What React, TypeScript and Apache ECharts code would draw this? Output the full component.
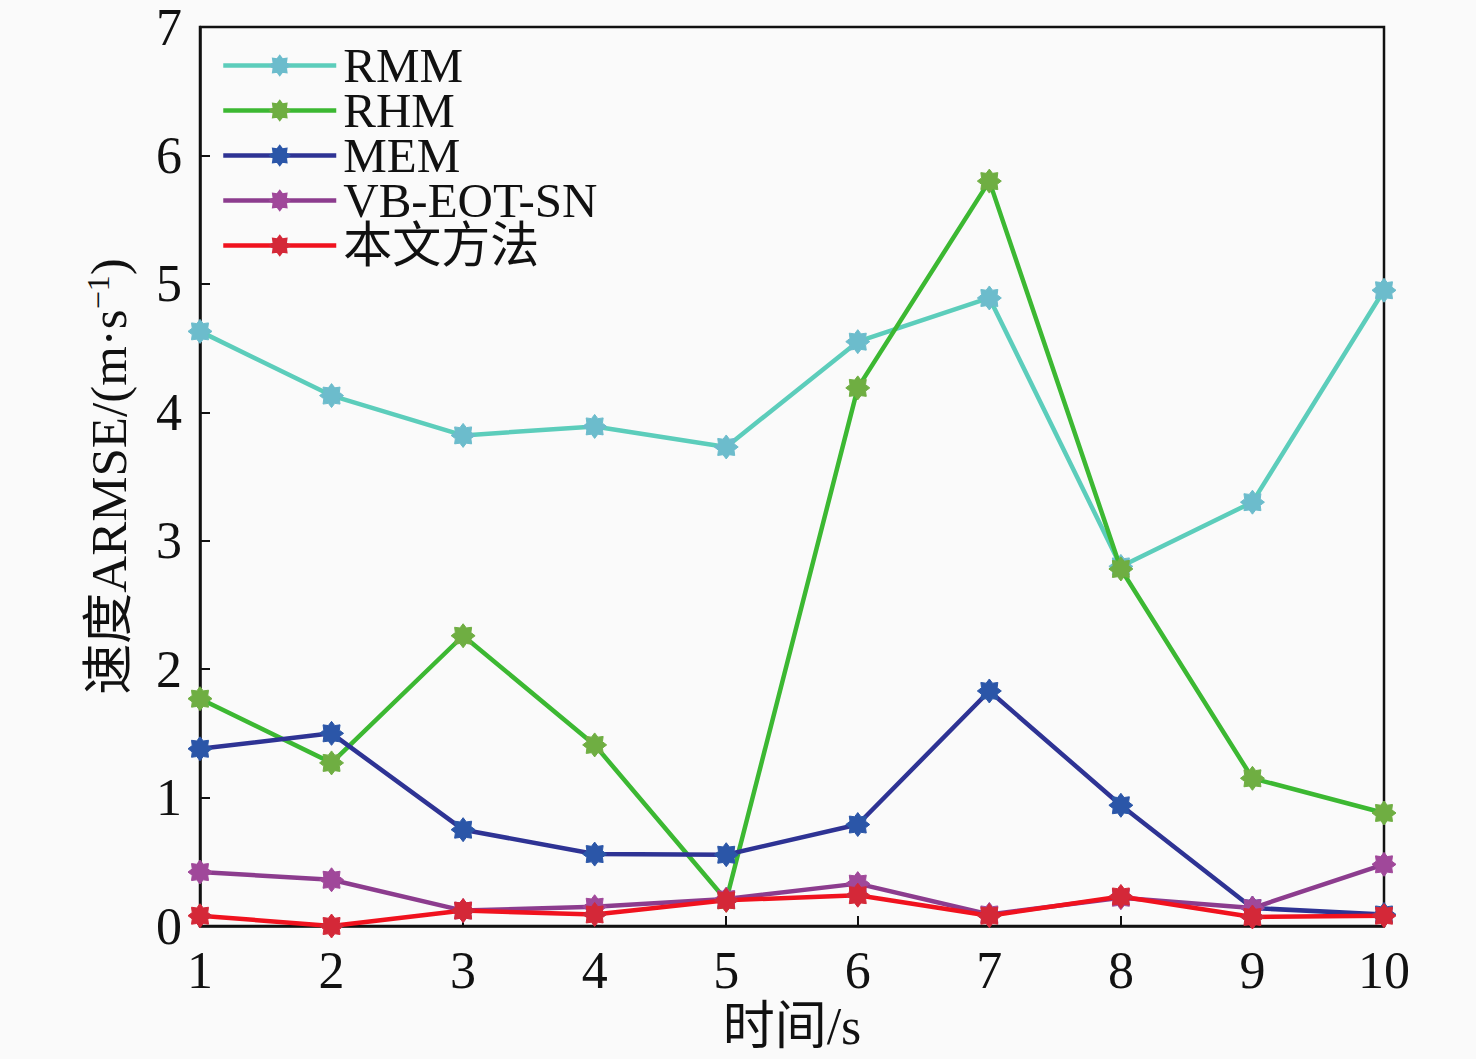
import React, { useEffect, useRef } from "react";
import * as echarts from "echarts";

const times = [1, 2, 3, 4, 5, 6, 7, 8, 9, 10];
const seriesNames = ["RMM", "RHM", "MEM", "VB-EOT-SN", "本文方法"];
const rmm = [4.63, 4.13, 3.82, 3.89, 3.73, 4.55, 4.89, 2.8, 3.3, 4.95];
const rhm = [1.77, 1.27, 2.26, 1.41, 0.2, 4.19, 5.8, 2.78, 1.15, 0.88];
const mem = [1.38, 1.5, 0.75, 0.56, 0.555, 0.79, 1.83, 0.94, 0.14, 0.09];
const vb = [0.42, 0.36, 0.12, 0.15, 0.21, 0.33, 0.09, 0.22, 0.14, 0.48];
const ours = [0.08, 0.0, 0.12, 0.09, 0.2, 0.24, 0.08, 0.23, 0.07, 0.08];
const lineColors = ["#5ccdbb", "#3cb832", "#2e3394", "#8c3c8e", "#f0121e"];
const markerColors = ["#6cbccc", "#6fae42", "#2b56a8", "#a0489a", "#d42838"];

function starPath(): string {
  const pts: string[] = [];
  const n = 8;
  for (let i = 0; i < n * 2; i++) {
    const r = i % 2 === 0 ? 10 : 7;
    const a = (Math.PI * i) / n - Math.PI / 2;
    pts.push(`${(r * Math.cos(a)).toFixed(2)} ${(r * Math.sin(a)).toFixed(2)}`);
  }
  return "path://M" + pts.join(" L") + " Z";
}

export default function App() {
  const ref = useRef<HTMLDivElement>(null);
  useEffect(() => {
    if (!ref.current) return;
    const chart = echarts.init(ref.current, undefined, { renderer: "svg" });
    const font = '"Liberation Serif", "Times New Roman", "Noto Sans CJK SC", serif';
    const all = [rmm, rhm, mem, vb, ours];
    const symbol = starPath();
    chart.setOption({
      animation: false,
      backgroundColor: "#fafafa",
      grid: {
        left: 200,
        right: 92,
        top: 27,
        bottom: 133,
        show: true,
        borderColor: "#111",
        borderWidth: 2.5,
        backgroundColor: "transparent",
      },
      legend: {
        show: true,
        orient: "vertical",
        left: 216,
        top: 36,
        padding: 5,
        itemGap: -4,
        itemWidth: 113,
        itemHeight: 24,
        data: seriesNames,
        lineStyle: { width: 4.5 },
        textStyle: {
          fontFamily: font,
          fontSize: 49,
          color: "#111",
          padding: [0, 0, 0, 2],
        },
      },
      xAxis: {
        type: "value",
        min: 1,
        max: 10,
        interval: 1,
        name: "时间/s",
        nameLocation: "middle",
        nameGap: 72,
        nameTextStyle: { fontFamily: font, fontSize: 52, color: "#111" },
        axisLine: { show: true, lineStyle: { color: "#111", width: 2.5 } },
        axisTick: { show: true, inside: true, length: 10, lineStyle: { color: "#111", width: 2 } },
        axisLabel: { fontFamily: font, fontSize: 52, color: "#111", margin: 18 },
        splitLine: { show: false },
      },
      yAxis: {
        type: "value",
        min: 0,
        max: 7,
        interval: 1,
        name: "{a|速度ARMSE/(m·s}{b|−1}{a|)}",
        nameLocation: "middle",
        nameGap: 64,
        nameTextStyle: {
          fontFamily: font,
          fontSize: 51,
          color: "#111",
          rich: {
            a: { fontFamily: font, fontSize: 51, color: "#111", lineHeight: 54 },
            b: { fontFamily: font, fontSize: 32, color: "#111", verticalAlign: "top", lineHeight: 54 },
          },
        },
        axisLine: { show: true, lineStyle: { color: "#111", width: 2.5 } },
        axisTick: { show: true, inside: true, length: 10, lineStyle: { color: "#111", width: 2 } },
        axisLabel: { fontFamily: font, fontSize: 52, color: "#111", margin: 18 },
        splitLine: { show: false },
      },
      series: seriesNames.map((name, i) => ({
        name,
        type: "line",
        data: times.map((t, j) => [t, all[i][j]]),
        symbol,
        symbolSize: 24,
        showSymbol: true,
        clip: false,
        lineStyle: { color: lineColors[i], width: 4.5 },
        itemStyle: { color: markerColors[i], borderColor: markerColors[i], borderWidth: 1 },
        z: 2 + i,
      })),
    });
    return () => chart.dispose();
  }, []);
  return (
    <div
      ref={ref}
      style={{ position: "fixed", left: 0, top: 0, width: 1476, height: 1059 }}
    />
  );
}
